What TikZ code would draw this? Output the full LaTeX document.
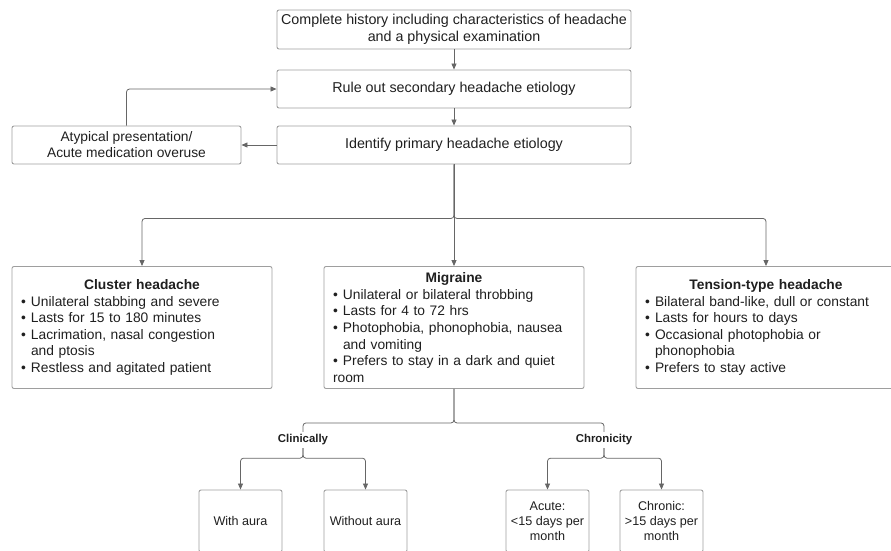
\documentclass[tikz,border=0pt]{standalone}
\usepackage{fontspec}
\setmainfont{Liberation Sans}
\usepackage{tikz}
\usetikzlibrary{arrows.meta}
\definecolor{gray40}{gray}{0.4}
\definecolor{gray60}{gray}{0.62}
\definecolor{ink}{gray}{0.12}

\newcommand{\bitem}[1]{\par\hangindent=10pt\hangafter=1\noindent\makebox[10pt][l]{\textbullet}#1}

\begin{document}
\begin{tikzpicture}[x=1pt, y=-1pt, text=ink,
    box/.style={draw=gray60, line width=0.9pt, rounded corners=2pt, align=center, inner sep=2pt,
        font=\fontsize{14.3}{17.2}\selectfont},
    listbox/.style={draw=gray60, line width=0.9pt, rounded corners=2pt, align=left,
        minimum width=260pt, minimum height=122pt, text width=242pt, inner xsep=9pt, inner ysep=0pt,
        font=\fontsize{13.8}{16.6}\selectfont},
    leaf/.style={draw=gray60, line width=0.9pt, rounded corners=2pt, align=center,
        minimum width=83pt, minimum height=62pt, inner sep=0pt, font=\fontsize{12.6}{15.1}\selectfont},
    tag/.style={font=\bfseries\fontsize{11.4}{13}\selectfont, inner sep=0pt, minimum height=16pt},
    conn/.style={draw=gray40, line width=0.8pt, rounded corners=3pt},
    arrow/.style={conn, -{Triangle[length=6pt, width=5pt]}}]

    \useasboundingbox (0,0) rectangle (891,550);
    \clip (0,0) rectangle (891,550);

    \node[box, minimum width=354pt, minimum height=39pt] (hist) at (454,29.5)
        {Complete history including characteristics of headache\\and a physical examination};
    \node[box, minimum width=354pt, minimum height=38pt] (rule) at (454,89) {Rule out secondary headache etiology};
    \node[box, minimum width=354pt, minimum height=38pt] (ident) at (454,145) {Identify primary headache etiology};
    \node[box, minimum width=229pt, minimum height=38pt, font=\fontsize{13.8}{16}\selectfont] (atyp) at (126.5,145)
        {Atypical presentation/\\Acute medication overuse};

    \node[listbox] (cluster) at (142,327.5) {{\centering\bfseries Cluster headache\par}
        \bitem{Unilateral stabbing and severe}
        \bitem{Lasts for 15 to 180 minutes}
        \bitem{Lacrimation, nasal congestion\newline and ptosis}
        \bitem{Restless and agitated patient}};
    \node[listbox] (mig) at (454,327.5) {{\centering\bfseries Migraine\par}
        \bitem{Unilateral or bilateral throbbing}
        \bitem{Lasts for 4 to 72 hrs}
        \bitem{Photophobia, phonophobia, nausea\newline and vomiting}
        \bitem{Prefers to stay in a dark and quiet\newline room}};
    \node[listbox] (tension) at (766,327.5) {{\centering\bfseries Tension-type headache\par}
        \bitem{Bilateral band-like, dull or constant}
        \bitem{Lasts for hours to days}
        \bitem{Occasional photophobia or\newline phonophobia}
        \bitem{Prefers to stay active}};

    \node[tag] (clin) at (303,440) {Clinically};
    \node[tag] (chron) at (604,440) {Chronicity};

    \node[leaf] (with) at (240.5,521) {With aura};
    \node[leaf] (without) at (365.5,521) {Without aura};
    \node[leaf] (acute) at (547.5,521) {Acute:\\<15 days per\\month};
    \node[leaf] (chronic) at (661.5,521) {Chronic:\\>15 days per\\month};

    \draw[arrow] (hist) -- (rule);
    \draw[arrow] (rule) -- (ident);
    \draw[arrow] (ident) -- (atyp);
    \draw[arrow] (atyp.north) |- (rule.west);

    \draw[arrow] (ident.south) -- ++(0,54) -| (cluster.north);
    \draw[arrow] (ident.south) -- (mig.north);
    \draw[arrow] (ident.south) -- ++(0,54) -| (tension.north);

    \draw[conn] (mig.south) -- ++(0,34) -| (clin.north);
    \draw[conn] (mig.south) -- ++(0,34) -| (chron.north);
    \draw[arrow] (clin.south) -- ++(0,10) -| (with.north);
    \draw[arrow] (clin.south) -- ++(0,10) -| (without.north);
    \draw[arrow] (chron.south) -- ++(0,10) -| (acute.north);
    \draw[arrow] (chron.south) -- ++(0,10) -| (chronic.north);

\end{tikzpicture}
\end{document}
